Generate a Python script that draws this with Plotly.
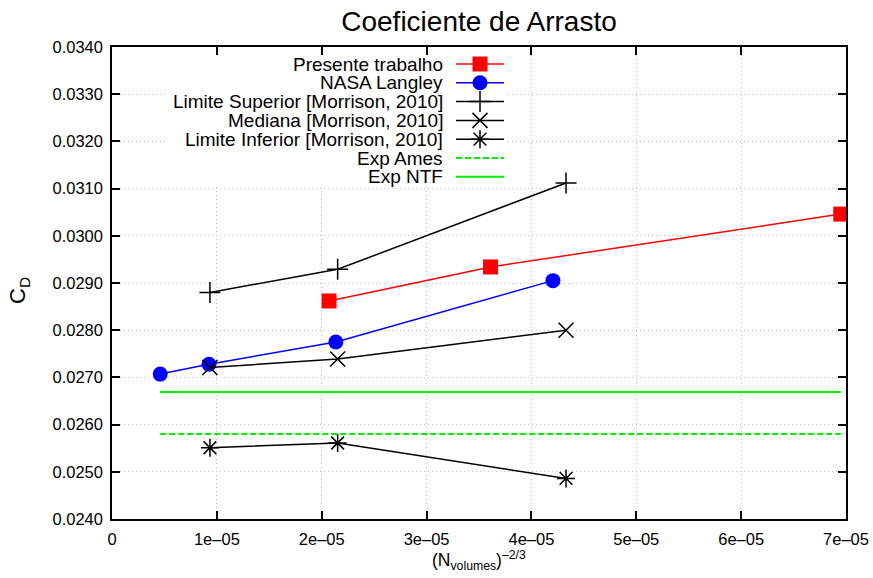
import plotly.graph_objects as go

# Grid refinement parameter (N_volumes)^(-2/3) and drag coefficient C_D
x_presente = [2.07e-5, 3.61e-5, 6.95e-5]
cd_presente = [0.02862, 0.02934, 0.03046]

x_langley = [0.46e-5, 0.925e-5, 2.135e-5, 4.205e-5]
cd_langley = [0.02707, 0.02728, 0.02775, 0.02905]

x_morrison = [0.934e-5, 2.152e-5, 4.33e-5]
cd_sup = [0.02880, 0.02929, 0.03112]
cd_med = [0.02721, 0.02739, 0.02800]
cd_inf = [0.02551, 0.02561, 0.02486]

x_exp = [0.46e-5, 6.95e-5]
cd_ames = 0.02580
cd_ntf = 0.02669

x_ticks = [0, 1e-5, 2e-5, 3e-5, 4e-5, 5e-5, 6e-5, 7e-5]
x_ticktext = ["0", "1e\u201305", "2e\u201305", "3e\u201305", "4e\u201305",
              "5e\u201305", "6e\u201305", "7e\u201305"]
y_ticks = [0.0240 + 0.001 * i for i in range(11)]

legend_names = [
    "Presente trabalho",
    "NASA Langley",
    "Limite Superior [Morrison, 2010]",
    "Mediana [Morrison, 2010]",
    "Limite Inferior [Morrison, 2010]",
    "Exp Ames",
    "Exp NTF",
]

FONT = "Liberation Sans, Arial, Helvetica, sans-serif"
RED, BLUE, GREEN, BLACK = "#ff0000", "#0000ff", "#00ee00", "#000000"

X_RANGE = [0, 7e-5]
Y_RANGE = [0.0240, 0.0340]

styles = [
    dict(line=dict(color=RED, width=1.5),
         marker=dict(symbol="square", size=15, color=RED)),
    dict(line=dict(color=BLUE, width=1.5),
         marker=dict(symbol="circle", size=15, color=BLUE)),
    dict(line=dict(color=BLACK, width=1.5),
         marker=dict(symbol="cross-thin", size=15, color=BLACK,
                     line=dict(color=BLACK, width=1.5))),
    dict(line=dict(color=BLACK, width=1.5),
         marker=dict(symbol="x-thin", size=15, color=BLACK,
                     line=dict(color=BLACK, width=1.5))),
    dict(line=dict(color=BLACK, width=1.5),
         marker=dict(symbol="asterisk", size=15, color=BLACK,
                     line=dict(color=BLACK, width=1.5))),
    dict(line=dict(color=GREEN, width=2, dash="6px,3px"), marker=None),
    dict(line=dict(color=GREEN, width=2), marker=None),
]

series = [
    (x_presente, cd_presente),
    (x_langley, cd_langley),
    (x_morrison, cd_sup),
    (x_morrison, cd_med),
    (x_morrison, cd_inf),
    (x_exp, [cd_ames] * len(x_exp)),
    (x_exp, [cd_ntf] * len(x_exp)),
]

fig = go.Figure()

for (xs, ys), st, name in zip(series, styles, legend_names):
    kw = dict(x=xs, y=ys, name=name, showlegend=False, line=st["line"])
    if st["marker"] is not None:
        kw.update(mode="lines+markers", marker=st["marker"])
    else:
        kw.update(mode="lines")
    fig.add_trace(go.Scatter(**kw))

# Key drawn on an overlay axis measured in pixels from the plot's top-left
W, H = 873, 578
L, R, T, B = 112, 27, 47, 59
pw, ph = W - L - R, H - T - B
row0, dy = 64 - T, 18.8
samp_x0, samp_x1, text_x = 456 - L, 504 - L, 445 - L

for i, (st, name) in enumerate(zip(styles, legend_names)):
    yy = row0 + dy * i
    kw = dict(x=[samp_x0, samp_x1], y=[yy, yy], mode="lines",
              line=st["line"], xaxis="x2", yaxis="y2", showlegend=False,
              hoverinfo="skip")
    fig.add_trace(go.Scatter(**kw))
    if st["marker"] is not None:
        fig.add_trace(go.Scatter(x=[(samp_x0 + samp_x1) / 2], y=[yy],
                                 mode="markers", marker=st["marker"],
                                 xaxis="x2", yaxis="y2", showlegend=False,
                                 hoverinfo="skip"))
    fig.add_annotation(x=text_x, y=yy, xref="x2", yref="y2", text=name,
                       showarrow=False, xanchor="right", yanchor="middle",
                       font=dict(family=FONT, size=19, color=BLACK))


def px_to_x(px):
    return X_RANGE[0] + (px - L) / pw * (X_RANGE[1] - X_RANGE[0])


def px_to_y(py):
    return Y_RANGE[1] - (py - T) / ph * (Y_RANGE[1] - Y_RANGE[0])


# Opaque key box covering the grid
fig.add_shape(type="rect", xref="x", yref="y",
              x0=px_to_x(166), x1=px_to_x(508),
              y0=px_to_y(54), y1=px_to_y(187),
              fillcolor="white", line=dict(width=0), layer="between")

axis_common = dict(
    showline=True, linecolor=BLACK, linewidth=1.5, mirror="ticks",
    ticks="inside", ticklen=8, tickwidth=1.5, tickcolor=BLACK,
    showgrid=True, gridcolor="#c4c4c4", gridwidth=1, griddash="1px,3px",
    zeroline=False, automargin=False,
    tickfont=dict(family=FONT, size=16.5, color=BLACK),
)

fig.update_layout(
    width=W, height=H,
    margin=dict(l=L, r=R, t=T, b=B),
    paper_bgcolor="white", plot_bgcolor="white",
    font=dict(family=FONT, color=BLACK),
    title=dict(text="Coeficiente de Arrasto", x=0.5 * (L + L + pw) / W,
               xanchor="center", y=1 - 21 / H, yanchor="middle",
               automargin=False,
               font=dict(family=FONT, size=28, color=BLACK)),
    xaxis=dict(range=X_RANGE, tickvals=x_ticks, ticktext=x_ticktext,
               ticklabelstandoff=4, **axis_common),
    yaxis=dict(range=Y_RANGE, tickvals=y_ticks, tickformat=".4f",
               ticklabelstandoff=4, **axis_common),
    xaxis2=dict(range=[0, pw], overlaying="x", visible=False,
                fixedrange=True, automargin=False),
    yaxis2=dict(range=[ph, 0], overlaying="y", visible=False,
                fixedrange=True, automargin=False),
    showlegend=False,
)

fig.add_annotation(text="C<sub>D</sub>", xref="paper", yref="paper",
                   x=-(L - 19) / pw, y=0.5 + (ph / 2 - (290 - T)) / ph,
                   textangle=-90, showarrow=False, xanchor="center",
                   yanchor="middle", font=dict(family=FONT, size=22))
fig.add_annotation(text="(N<sub>volumes</sub>)<sup>\u20132/3</sup>",
                   xref="paper", yref="paper", x=0.5,
                   y=-(560 - T - ph) / ph, showarrow=False,
                   xanchor="center", yanchor="middle",
                   font=dict(family=FONT, size=17.5))

fig.write_html("out.html")
